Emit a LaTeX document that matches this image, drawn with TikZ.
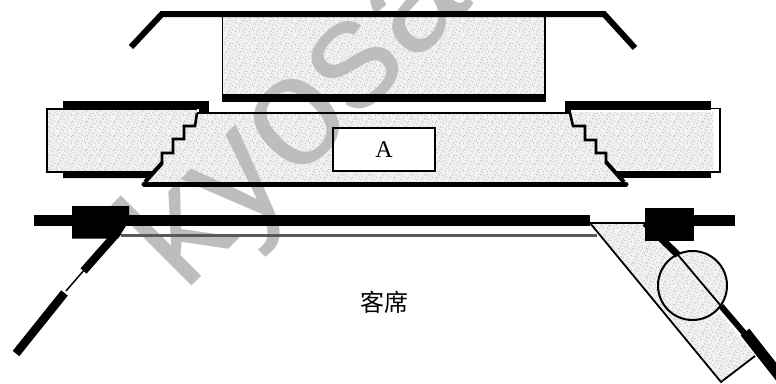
\documentclass[tikz,border=0pt]{standalone}
\usepackage{fontspec}
\setmainfont{Liberation Serif}
\newfontfamily\wmfont{Liberation Sans}
\newfontfamily\cjkfont{Noto Sans CJK SC}
\usetikzlibrary{patterns}
\pgfdeclarepatternformonly{speck}{\pgfpoint{0pt}{0pt}}{\pgfpoint{14pt}{14pt}}{\pgfpoint{14pt}{14pt}}{%
  \foreach \a/\b in {1/2,5/1,9/3,12/1,3/6,7/5,11/7,2/10,6/9,10/11,13/10,4/13,8/12,12/13,0/5,6/3,9/8,3/9,13/4,7/0,1/8,5/12}{%
    \pgfpathrectangle{\pgfpoint{\a pt}{\b pt}}{\pgfpoint{1pt}{1pt}}}%
  \pgfusepath{fill}}
\definecolor{wmgray}{gray}{0.74}
\tikzset{
  x=1pt,y=-1pt,
  grainfill/.style={fill=gray!10,postaction={pattern=speck,pattern color=gray!55}},
  thinline/.style={draw=black,line width=1.8pt,line join=miter},
  stairline/.style={draw=black,line width=2.6pt,line join=miter},
  heavy/.style={draw=black,line width=6pt},
  solidblack/.style={fill=black,draw=none},
  wmark/.style={text=wmgray,font=\wmfont\fontsize{157}{157}\selectfont,inner sep=0pt,anchor=base west,rotate=45},
}
\begin{document}
\begin{tikzpicture}
\useasboundingbox (0,0) rectangle (776,383);
\clip (0,0) rectangle (776,383);
% grain-filled parts
\path[grainfill] (223,17) rectangle (545,95);
\path[grainfill] (48,110) -- (197,110) -- (195,126) -- (184,126) -- (184,139) -- (173,139) -- (173,153) -- (162,153) -- (162,164) -- (152,172) -- (48,172) -- cycle;
\path[grainfill] (197,113) -- (570,113) -- (573,126) -- (585,126) -- (585,140) -- (596,140) -- (596,153) -- (606,153) -- (606,163) -- (623,182) -- (147,182) -- (162,164) -- (162,153) -- (173,153) -- (173,139) -- (184,139) -- (184,126) -- (195,126) -- cycle;
\path[grainfill] (570,112) -- (713,112) -- (713,170) -- (620,170) -- (606,163) -- (606,153) -- (596,153) -- (596,140) -- (585,140) -- (585,126) -- (573,126) -- cycle;
\path[grainfill] (590,223) -- (645,223) -- (755,356) -- (721,382) -- cycle;
\node[circle,minimum size=70pt,inner sep=0pt,grainfill] (lens) at (692.5,285.5) {};
% box A
\node[draw=none,fill=white,minimum width=102pt,minimum height=43pt,inner sep=0pt] (boxA) at (384,149.5) {};
% watermark
\node[wmark] (wm) at (184,294) {kyosan};
% outlines
\draw[thinline] (boxA.north west) rectangle (boxA.south east);
\node[font=\fontsize{24}{24}\selectfont] (labA) at (boxA.center) {A};
\draw[thinline] (222.5,15) -- (222.5,96);
\draw[thinline] (545,15) -- (545,96);
\path[solidblack] (222,94) rectangle (546,101.5);
\draw[heavy,line join=miter] (131,47) -- (162,14) -- (604,14) -- (635,48);
% left block
\path[solidblack] (63,101) rectangle (209,109);
\path[solidblack] (199,109) rectangle (209,112);
\path[solidblack] (63,171) -- (155,171) -- (149,178) -- (63,178) -- cycle;
\draw[thinline] (197,109) -- (47,109) -- (47,172) -- (155,172);
\draw[stairline] (197,113) -- (195,126) -- (184,126) -- (184,139) -- (173,139) -- (173,153) -- (162,153) -- (162,164);
\draw[black,line width=4pt] (162,163) -- (145,182);
\draw[thinline] (197,113) -- (570,113);
\draw[stairline] (570,113) -- (573,126) -- (585,126) -- (585,140) -- (596,140) -- (596,153) -- (606,153) -- (606,163);
\draw[black,line width=4pt] (606,162) -- (624,182);
% right block
\path[solidblack] (565,101) rectangle (711,110);
\path[solidblack] (565,110) rectangle (571,113);
\path[solidblack] (617,171) rectangle (711,178);
\draw[thinline] (711,108.5) -- (720,108.5) -- (720,172) -- (617,172);
% bottom rail of the stage
\draw[black,line width=5pt,line cap=round] (144,184) -- (626,184);
% main bar
\path[solidblack] (34,215) rectangle (590,226);
\path[solidblack] (693,215) rectangle (734.5,226);
\path[solidblack] (72,206) -- (129,206) -- (129,221) -- (118,238.5) -- (72,238.5) -- cycle;
\path[solidblack] (645,207.5) rectangle (693.5,240.5);
\draw[gray!70!black,line width=2.4pt] (121,235.5) -- (597,235.5);
% left door
\draw[black,line width=8pt] (118,232) -- (83.5,271);
\draw[black,line width=1.5pt] (85,269) -- (66,291);
\draw[black,line width=8.5pt] (64.5,293) -- (16,353.5);
% right door
\draw[thinline] (590,223) -- (645,223);
\draw[thinline] (590,223) -- (721,382) -- (755,356);
\draw[black,line width=7pt] (645,223) -- (678,255);
\draw[black,line width=1.8pt] (678,255) -- (721,306);
\draw[black,line width=6pt] (721,306) -- (745,334);
\draw[black,line width=11pt] (745,332) -- (785,383);
\draw[black,line width=2pt] (lens) circle[radius=34.5pt];
% audience label
\node[font=\cjkfont\fontsize{24}{24}\selectfont] (seats) at (384,302) {客席};
\end{tikzpicture}
\end{document}
